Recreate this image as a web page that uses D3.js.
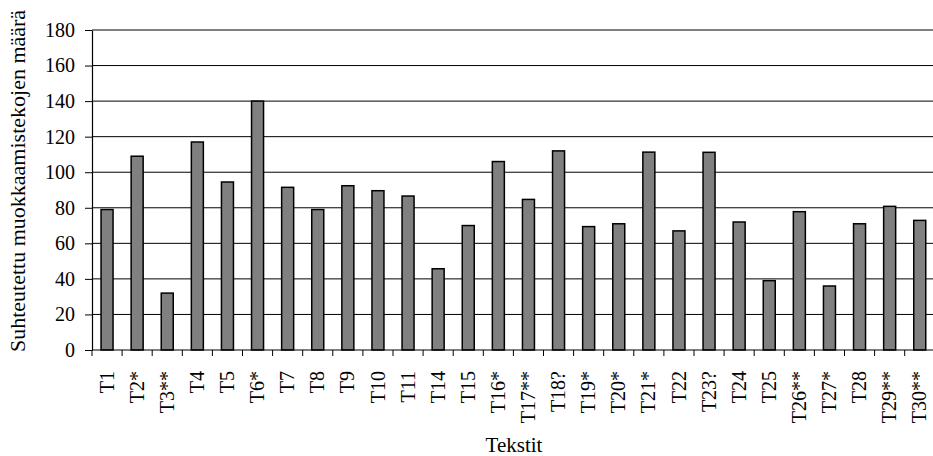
<!DOCTYPE html>
<html>
<head>
<meta charset="utf-8">
<script src="https://cdn.jsdelivr.net/npm/d3@7"></script>
<style>
html,body{margin:0;padding:0;background:#fff;}
svg{display:block;}
svg text{font-family:"Times New Roman","Liberation Serif","DejaVu Serif",serif !important;fill:#000;}
</style>
</head>
<body>
<svg id="chart" width="933" height="456"></svg>
<script>
const categories = ["T1","T2*","T3**","T4","T5","T6*","T7","T8","T9","T10","T11","T14","T15","T16*","T17**","T18?","T19*","T20*","T21*","T22","T23?","T24","T25","T26**","T27*","T28","T29**","T30**"];
const values = [79,109,32,117,94.5,140,91.5,79,92.4,89.6,86.6,45.7,70,106,84.7,112,69.4,71,111.3,67,111.2,72,39,77.8,36,71,80.8,72.9];
const yTicks = [0,20,40,60,80,100,120,140,160,180];
const yTitle = "Suhteutettu muokkaamistekojen määrä";
const xTitle = "Tekstit";

const svg = d3.select("#chart");
const pLeft = 92, pRight = 92 + 28*30.1, pTop = 30, pBottom = 350;

const xb = d3.scaleBand().domain(categories).range([pLeft, pRight]);
const y = d3.scaleLinear().domain([0,180]).range([pBottom, pTop]);

// gridlines
svg.append("g").selectAll("line").data(yTicks.filter(d=>d>0)).join("line")
  .attr("x1", pLeft).attr("x2", pRight)
  .attr("y1", d=>y(d)).attr("y2", d=>y(d))
  .attr("stroke", "#000").attr("stroke-width", 1);

// bars
svg.append("g").selectAll("rect").data(values).join("rect")
  .attr("x", (d,i)=>xb(categories[i]) + xb.bandwidth()/2 - 6)
  .attr("width", 12)
  .attr("y", d=>y(d))
  .attr("height", d=>y(0)-y(d))
  .attr("fill", "#808080").attr("stroke", "#000").attr("stroke-width", 1.5);

// y axis
const yAxis = d3.axisLeft(y).tickValues(yTicks).tickSize(7).tickPadding(10).tickSizeOuter(0);
const gy = svg.append("g").attr("transform", `translate(${pLeft},0)`).call(yAxis);
gy.attr("font-family", null).attr("font-size", null);
gy.select(".domain").attr("stroke","#000").attr("stroke-width",1.2);
gy.selectAll(".tick line").attr("stroke","#000");
gy.selectAll(".tick text").style("font-size","20px").attr("fill","#000");

// x axis line
svg.append("line").attr("x1", pLeft).attr("x2", pRight).attr("y1", pBottom).attr("y2", pBottom).attr("stroke","#000").attr("stroke-width",1.2);
// x ticks between categories
svg.append("g").selectAll("line").data(categories).join("line")
  .attr("x1", d=>xb(d)).attr("x2", d=>xb(d))
  .attr("y1", pBottom).attr("y2", pBottom+6)
  .attr("stroke","#000");

// x labels
svg.append("g").selectAll("text").data(categories).join("text")
  .attr("transform", d=>`translate(${xb(d)+xb.bandwidth()/2},${pBottom+21}) rotate(-90)`)
  .attr("text-anchor","end")
  .attr("dy","0.33em")
  .style("font-size","20px")
  .text(d=>d);

// titles
svg.append("text")
  .attr("transform", `translate(25,352) rotate(-90)`)
  .attr("text-anchor","start")
  .style("font-size","22px")
  .text(yTitle);

svg.append("text")
  .attr("x", 514).attr("y", 452)
  .attr("text-anchor","middle")
  .style("font-size","21px")
  .text(xTitle);
</script>
</body>
</html>
